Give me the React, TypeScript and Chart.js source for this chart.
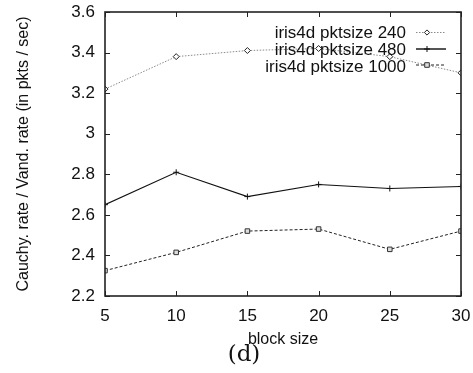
import React, { useEffect, useRef } from "react";
import { Chart, registerables } from "chart.js";

Chart.register(...registerables);

const blockSizes = [5, 10, 15, 20, 25, 30];
const rate240 = [3.22, 3.38, 3.41, 3.42, 3.38, 3.3];
const rate480 = [2.65, 2.81, 2.69, 2.75, 2.73, 2.74];
const rate1000 = [2.325, 2.415, 2.52, 2.53, 2.43, 2.52];
const seriesLabels = ["iris4d pktsize 240", "iris4d pktsize 480", "iris4d pktsize 1000"];
const xMin = 5;
const xMax = 30;
const xStep = 5;
const yMin = 2.2;
const yMax = 3.6;
const yStep = 0.2;
const xTitle = "block size";
const yTitle = "Cauchy. rate / Vand. rate (in pkts / sec)";
const caption = "(d)";

const FONT = "'Liberation Sans', Arial, Helvetica, sans-serif";

function toPoints(vals: number[]) {
  return blockSizes.map((x, i) => ({ x, y: vals[i] }));
}

const legendStyles = [
  { color: "#8a8a8a", dash: [1.5, 1.5], width: 1, marker: "diamond", markerColor: "#222" },
  { color: "#555", dash: [] as number[], width: 2, marker: "cross", markerColor: "#111" },
  { color: "#222", dash: [3, 2], width: 1, marker: "square", markerColor: "#333" },
];

function drawMarker(ctx: CanvasRenderingContext2D, kind: string, x: number, y: number, color: string) {
  ctx.save();
  ctx.setLineDash([]);
  ctx.strokeStyle = color;
  ctx.lineWidth = 1;
  ctx.beginPath();
  if (kind === "diamond") {
    const r = 2.6;
    ctx.moveTo(x, y - r);
    ctx.lineTo(x + r, y);
    ctx.lineTo(x, y + r);
    ctx.lineTo(x - r, y);
    ctx.closePath();
    ctx.fillStyle = "#fff";
    ctx.fill();
    ctx.stroke();
  } else if (kind === "cross") {
    const r = 3;
    ctx.moveTo(x - r, y);
    ctx.lineTo(x + r, y);
    ctx.moveTo(x, y - r);
    ctx.lineTo(x, y + r);
    ctx.stroke();
  } else {
    const r = 2.3;
    ctx.rect(x - r, y - r, 2 * r, 2 * r);
    ctx.fillStyle = "#ddd";
    ctx.fill();
    ctx.stroke();
  }
  ctx.restore();
}

const framePlugin = {
  id: "gnuplotFrame",
  afterDraw(chart: any) {
    const { ctx, chartArea, scales } = chart;
    const { left, right, top, bottom } = chartArea;
    const xs = scales.x;
    const ys = scales.y;
    ctx.save();
    ctx.strokeStyle = "#222";
    ctx.lineWidth = 1;
    ctx.setLineDash([]);
    const tl = 5;
    ctx.beginPath();
    xs.ticks.forEach((t: any) => {
      const px = Math.round(xs.getPixelForValue(t.value)) + 0.5;
      ctx.moveTo(px, bottom);
      ctx.lineTo(px, bottom - tl);
      ctx.moveTo(px, top);
      ctx.lineTo(px, top + tl);
    });
    ys.ticks.forEach((t: any) => {
      const py = Math.round(ys.getPixelForValue(t.value)) + 0.5;
      ctx.moveTo(left, py);
      ctx.lineTo(left + tl, py);
      ctx.moveTo(right, py);
      ctx.lineTo(right - tl, py);
    });
    ctx.stroke();
    ctx.lineWidth = 1.6;
    ctx.strokeRect(left, top, right - left, bottom - top);

    // legend (gnuplot style: text right-aligned, sample to the right)
    const textRight = 406;
    const sampleL = 416;
    const sampleR = 446;
    const markerX = 427;
    const textY = [33, 50.5, 67];
    const sampleY = [32.5, 49, 65];
    ctx.font = `17px ${FONT}`;
    ctx.textAlign = "right";
    ctx.textBaseline = "middle";
    ctx.fillStyle = "#111";
    chart.data.datasets.forEach((ds: any, i: number) => {
      const st = legendStyles[i];
      ctx.fillText(ds.label, textRight, textY[i]);
      ctx.save();
      ctx.strokeStyle = st.color;
      ctx.lineWidth = st.width;
      ctx.setLineDash(st.dash);
      ctx.beginPath();
      ctx.moveTo(sampleL, sampleY[i]);
      ctx.lineTo(sampleR, sampleY[i]);
      ctx.stroke();
      ctx.restore();
      drawMarker(ctx, st.marker, markerX, sampleY[i], st.markerColor);
    });
    ctx.restore();
  },
};

function zeroPad(s: any) {
  s.paddingTop = 0;
  s.paddingBottom = 0;
  s.paddingLeft = 0;
  s.paddingRight = 0;
}

export default function App() {
  const ref = useRef<HTMLCanvasElement | null>(null);

  useEffect(() => {
    if (!ref.current) return;
    Chart.defaults.font.family = FONT;
    const chart = new Chart(ref.current, {
      type: "line",
      data: {
        datasets: [
          {
            label: seriesLabels[0],
            data: toPoints(rate240),
            borderColor: "#8a8a8a",
            borderWidth: 1,
            borderDash: [1.5, 1.5],
            pointStyle: "rectRot",
            pointRadius: 3,
            pointBorderColor: "#222",
            pointBackgroundColor: "#fff",
            pointBorderWidth: 1,
            tension: 0,
          },
          {
            label: seriesLabels[1],
            data: toPoints(rate480),
            borderColor: "#111",
            borderWidth: 1.1,
            pointStyle: "cross",
            pointRadius: 3,
            pointBorderColor: "#111",
            pointBorderWidth: 1,
            tension: 0,
          },
          {
            label: seriesLabels[2],
            data: toPoints(rate1000),
            borderColor: "#222",
            borderWidth: 1,
            borderDash: [3, 2],
            pointStyle: "rect",
            pointRadius: 3.2,
            pointBorderColor: "#333",
            pointBackgroundColor: "#ddd",
            pointBorderWidth: 1,
            tension: 0,
          },
        ],
      },
      options: {
        responsive: false,
        animation: false,
        layout: { padding: { left: 0, right: 12, top: 12, bottom: 0 } },
        plugins: {
          legend: { display: false },
          tooltip: { enabled: false },
        },
        scales: {
          x: {
            type: "linear",
            min: xMin,
            max: xMax,
            grid: { display: false, drawTicks: false },
            border: { display: false },
            ticks: {
              stepSize: xStep,
              padding: 10,
              color: "#111",
              font: { size: 17, family: FONT },
              maxRotation: 0,
            },
            title: {
              display: true,
              text: xTitle,
              color: "#111",
              font: { size: 16, family: FONT },
              padding: { top: 0, bottom: 24 },
            },
            afterFit: (s: any) => {
              s.height = 77;
              zeroPad(s);
            },
          },
          y: {
            type: "linear",
            min: yMin,
            max: yMax,
            grid: { display: false, drawTicks: false },
            border: { display: false },
            ticks: {
              stepSize: yStep,
              padding: 10,
              color: "#111",
              font: { size: 17, family: FONT },
              callback: (v: any) => String(+Number(v).toFixed(2)),
            },
            title: {
              display: true,
              text: yTitle,
              color: "#111",
              font: { size: 16, family: FONT },
              padding: { top: 14, bottom: 0 },
            },
            afterFit: (s: any) => {
              s.width = 105;
              zeroPad(s);
            },
          },
        },
      },
      plugins: [framePlugin],
    });
    return () => chart.destroy();
  }, []);

  return (
    <div style={{ position: "absolute", left: 0, top: 0, width: 473, height: 373, background: "#fff" }}>
      <canvas ref={ref} width={473} height={373} style={{ display: "block" }} />
      <div
        style={{
          position: "absolute",
          left: 0,
          width: 488,
          top: 338,
          textAlign: "center",
          fontFamily: "'DejaVu Serif', 'Liberation Serif', serif",
          fontSize: 23,
          lineHeight: "30px",
          color: "#111",
        }}
      >
        {caption}
      </div>
    </div>
  );
}
